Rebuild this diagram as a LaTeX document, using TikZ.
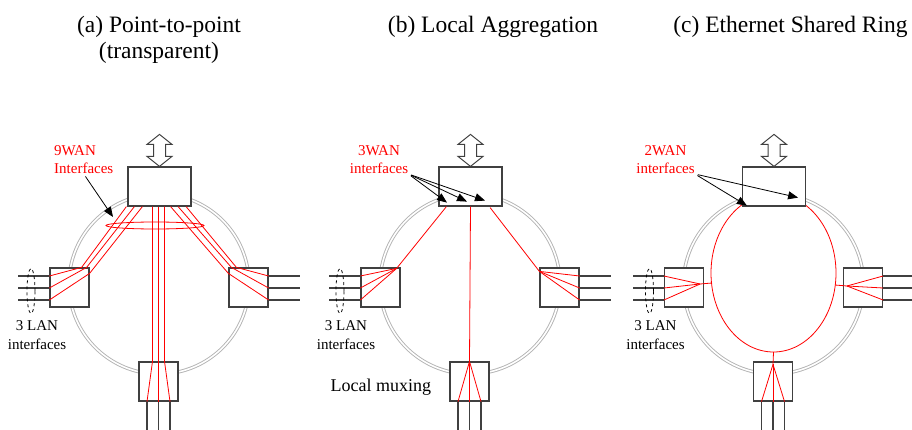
\documentclass[tikz,border=0pt]{standalone}
\usepackage{fontspec}
\setmainfont{Liberation Serif}
\usepackage{xcolor}
\usetikzlibrary{positioning,calc,shapes.geometric,arrows.meta}

\tikzset{
  box/.style={draw=black!75, line width=1.2pt, fill=white, inner sep=0pt, minimum width=39pt, minimum height=39pt},
  topbox/.style={box, minimum width=63pt},
  ring/.style={draw=gray!60, line width=0.9pt, double=white, double distance=1.6pt},
  lan/.style={draw=black!75, line width=1.2pt},
  fibre/.style={draw=red, line width=0.8pt},
  bundle/.style={ellipse, draw=red, line width=0.8pt, minimum width=98pt, minimum height=7pt, inner sep=0pt},
  lanloop/.style={ellipse, draw=black, dashed, line width=0.8pt, minimum width=8pt, minimum height=45pt, inner sep=0pt},
  pointer/.style={draw=black, line width=0.8pt, -{Triangle[length=10pt,width=8pt]}, shorten <=3pt},
  heading/.style={font=\fontsize{23.5}{26}\selectfont, align=center, inner sep=0pt, anchor=north},
  waninfo/.style={text=red, font=\fontsize{15}{18}\selectfont, inner sep=0pt, anchor=north},
  laninfo/.style={font=\fontsize{15}{19}\selectfont, align=center, inner sep=0pt},
  mux/.style={font=\fontsize{18}{20}\selectfont, inner sep=0pt},
  updown/.pic={
    \draw[line width=1pt, draw=black!75, fill=white] (0,0) -- (-12.5,-10) -- (-6,-10) -- (-6,-22)
      -- (-12.5,-22) -- (0,-32) -- (12.5,-22) -- (6,-22) -- (6,-10) -- (12.5,-10) -- cycle;
  }
}

\begin{document}
\begin{tikzpicture}[x=1pt, y=-1pt]
\useasboundingbox (0,0) rectangle (912,430);

% titles
\node[heading] (ha) at (159,15.5) {(a) Point-to-point\\(transparent)};
\node[heading] (hb) at (493,15.5) {(b) Local Aggregation};
\node[heading] (hc) at (790.5,15.5) {(c) Ethernet Shared Ring};

% rings
\foreach \p/\dx in {a/0, b/311, c/614.5}{
  \begin{scope}[xshift=\dx]
    \coordinate (o\p) at (159,284);
    \draw[ring] (o\p) circle (90pt);
  \end{scope}
}

% shared ring of (c), top part hidden by the box
\draw[fibre] ($(oc)+(0,-11)$) ellipse (62.5pt and 79pt);

% boxes and LAN sides
\foreach \p/\dx/\lx in {a/0/31, b/311/29, c/614.5/35}{
  \begin{scope}[xshift=\dx]
    \node[topbox] (t\p) at (159.5,186.5) {};
    \node[box] (l\p) at (69.5,287.5) {};
    \node[box] (r\p) at (248.5,287.5) {};
    \node[box] (b\p) at (158.5,381.5) {};
    \pic at (t\p.north) {updown};
    \foreach \y in {-11.5,0.5,12.5}{
      \draw[lan] ($(l\p.west)+(0,\y)$) -- ++(-31,0);
      \draw[lan] ($(r\p.east)+(0,\y)$) -- ++(31,0);
    }
    \foreach \x in {-11.5,0,11.5}
      \draw[lan] ($(b\p.south)+(\x,0)$) -- ++(0,30);
    \node[lanloop] (e\p) at (\lx,291) {};
    \node[laninfo, below=6pt of e\p, xshift=6pt] (n\p) {3 LAN\\interfaces};
  \end{scope}
}

% (a) point-to-point
\foreach \s/\ex/\ey/\f in {-1/-8/0/-11.5, 7/-3/0/0.5, 15/0/6/12.5}
  \draw[fibre] ($(ta.south west)+(\s,0)$) -- ($(la.north east)+(\ex,\ey)$) -- ($(la.west)+(0,\f)$);
\foreach \s/\ex/\ey/\f in {-5.5/8/0/-11.5, -13.5/3/0/0.5, -21/0/6/12.5}
  \draw[fibre] ($(ta.south east)+(\s,0)$) -- ($(ra.north west)+(\ex,\ey)$) -- ($(ra.east)+(0,\f)$);
\foreach \x/\y in {-6/-11.5, 0/0, 6/11.5}
  \draw[fibre] ($(ta.south)+(\x-1,0)$) -- ($(ba.north)+(\x,0)$) -- ($(ba.south)+(\y,0)$);
\node[bundle] (bundle) at (155,225.5) {};
\node[waninfo, anchor=north west, align=left] (wa) at (54,145.5) {9WAN\\Interfaces};
\coordinate (wtip) at ($(bundle)+(-42,-8.5)$);
\draw[pointer] (wa.south) -- (wtip);

% (b) local aggregation
\coordinate (pl) at ($(lb.north east)+(-4,1)$);
\coordinate (pr) at ($(rb.north west)+(0,4)$);
\draw[fibre] ($(tb.south west)+(8,0)$) -- (pl);
\draw[fibre] ($(tb.south east)+(-12.5,1)$) -- (pr);
\draw[fibre] (tb.south) -- (bb.north);
\foreach \f in {-11.5,0.5,12.5}{
  \draw[fibre] (pl) -- ($(lb.west)+(0,\f)$);
  \draw[fibre] (pr) -- ($(rb.east)+(0,\f)$);
}
\foreach \x in {-11.5,0,11.5}
  \draw[fibre] (bb.north) -- ($(bb.south)+(\x,0)$);
\node[mux, anchor=base east] (mx) at ($(bb.west)+(-18,10)$) {Local muxing};
\node[waninfo, align=center] (wb) at (379,145.5) {3WAN\\interfaces};
\foreach \dx/\dy in {-23.5/-4, -3.5/-5, 14.5/-6}
  \draw[pointer] (wb.south east) -- ($(tb.south)+(\dx,\dy)$);

% (c) ethernet shared ring
\coordinate (ql) at ($(lc.east)+(-4,-3.5)$);
\coordinate (qr) at ($(rc.west)+(4,-1.5)$);
\coordinate (qb) at ($(bc.north)+(0,3)$);
\draw[fibre] (ql) -- ($(oc)+(-61.5,-1)$);
\draw[fibre] (qr) -- ($(oc)+(61.5,1)$);
\draw[fibre] ($(oc)+(0,68)$) -- (qb);
\foreach \f in {-11.5,0.5,12.5}{
  \draw[fibre] (ql) -- ($(lc.west)+(0,\f)$);
  \draw[fibre] (qr) -- ($(rc.east)+(0,\f)$);
}
\foreach \x in {-11.5,0,11.5}
  \draw[fibre] (qb) -- ($(bc.south)+(\x,0)$);
\node[waninfo, align=center] (wc) at (665.5,145.5) {2WAN\\interfaces};
\draw[pointer] (wc.south east) -- ($(tc.south west)+(5,-1)$);
\draw[pointer] (wc.south east) -- ($(tc.south east)+(-8,-9)$);
\end{tikzpicture}
\end{document}
